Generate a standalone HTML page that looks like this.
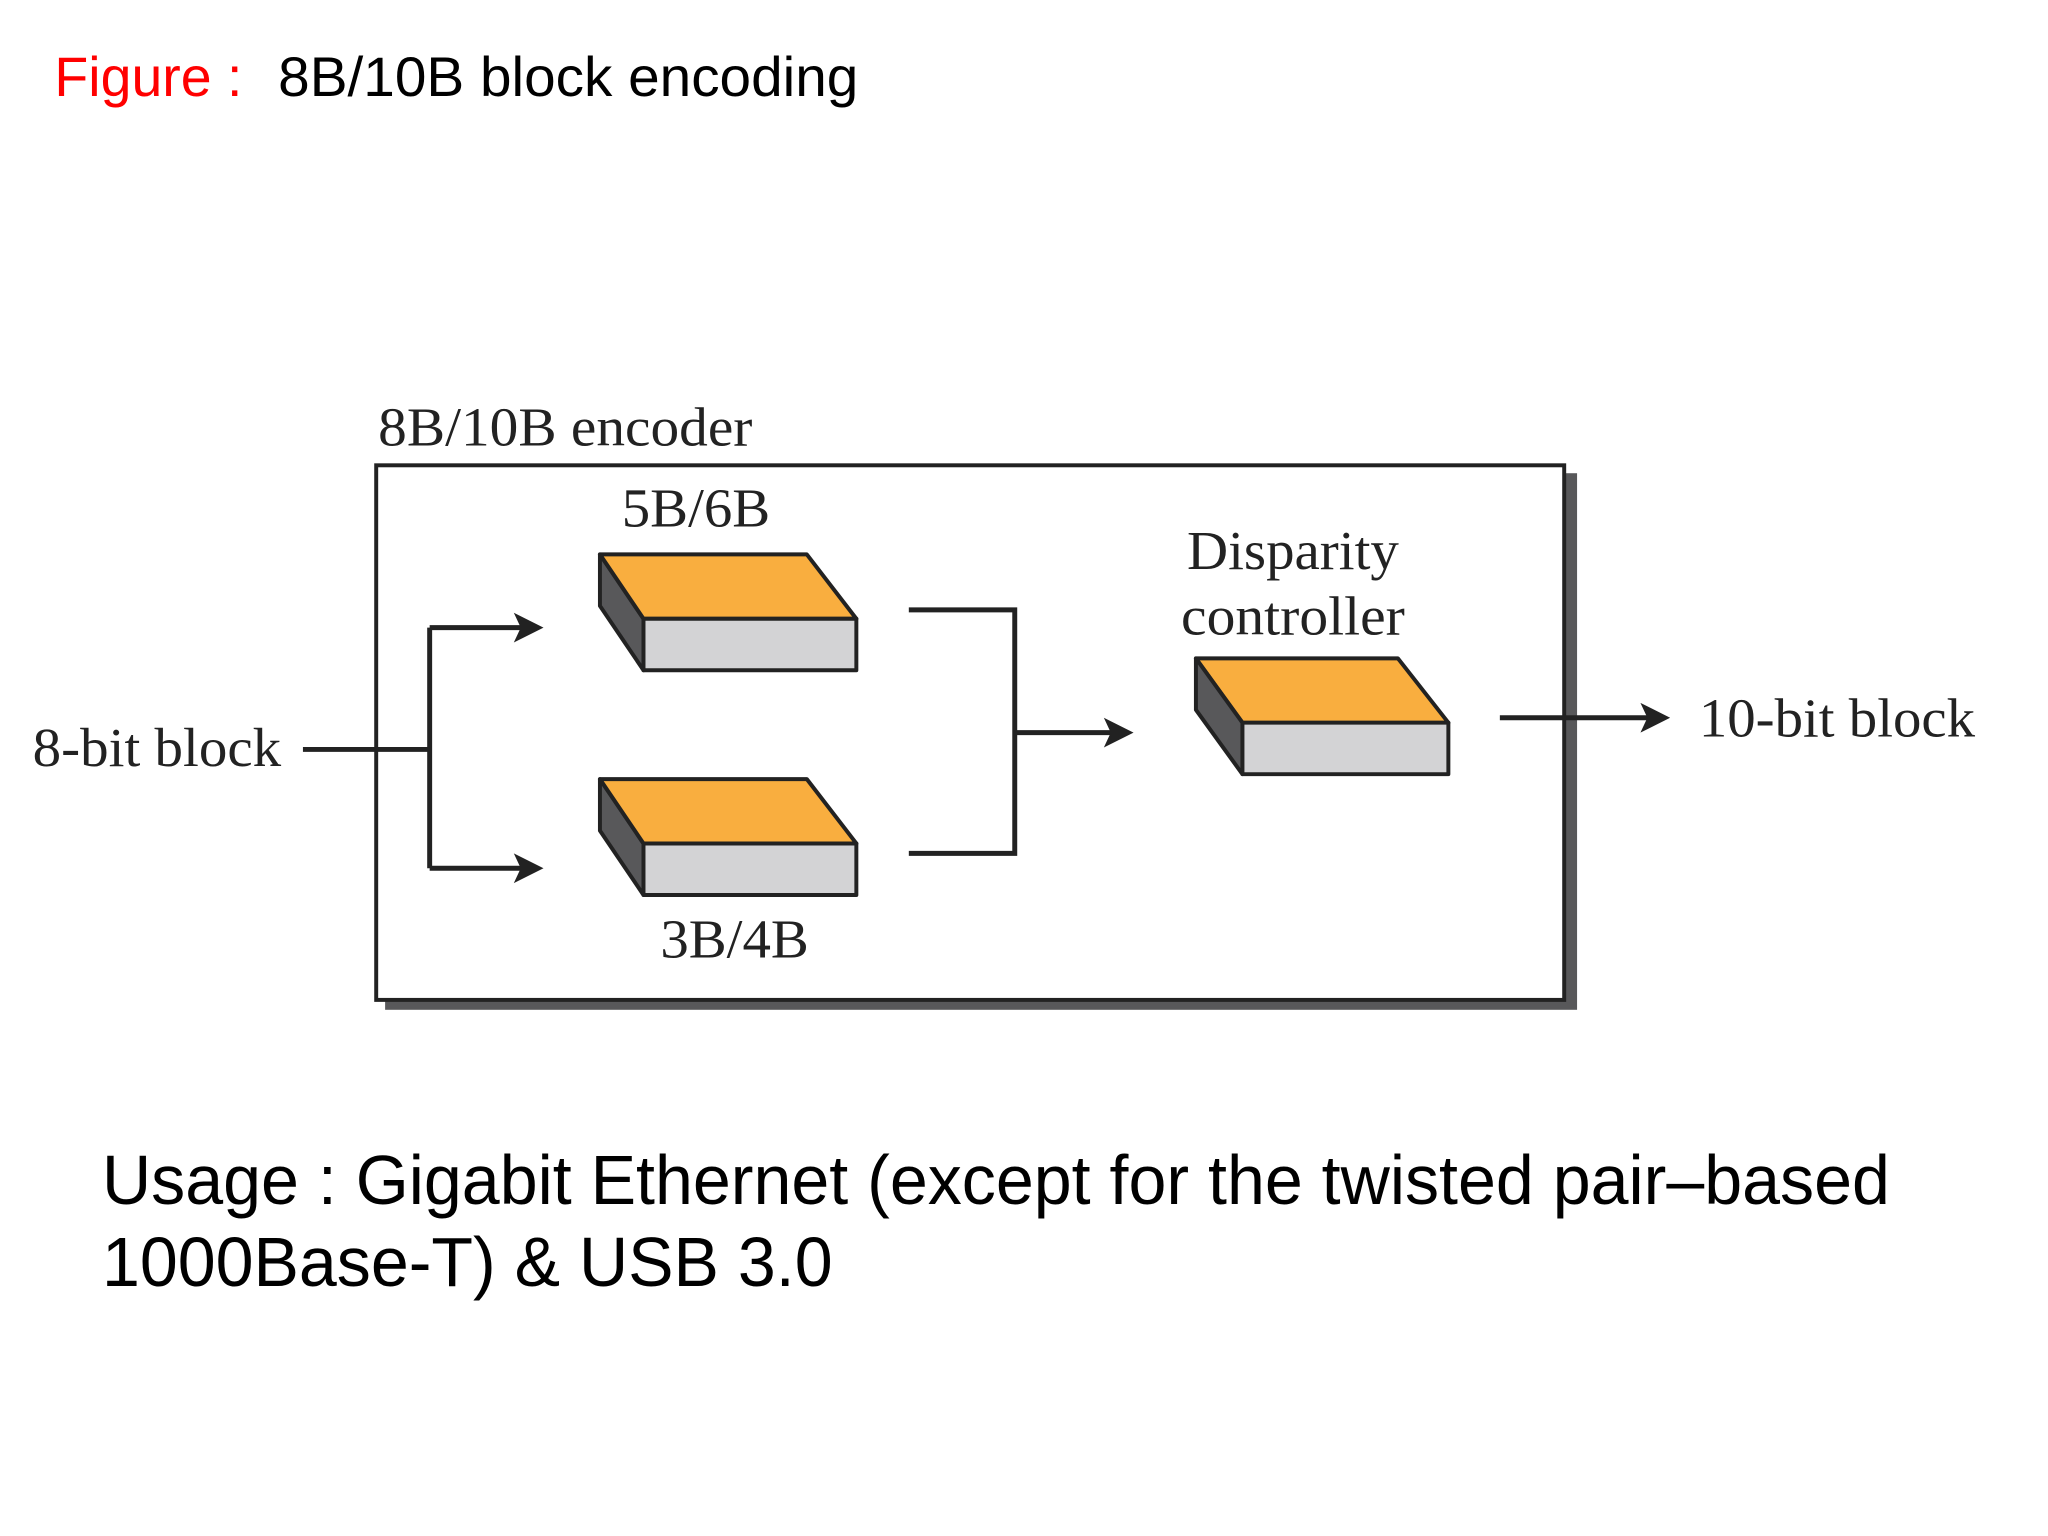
<!DOCTYPE html>
<html><head><meta charset="utf-8"><style>html,body{margin:0;padding:0;background:#fff}svg{display:block}</style></head>
<body>
<svg width="2048" height="1536" viewBox="0 0 2048 1536" xmlns="http://www.w3.org/2000/svg">
<g transform="scale(0.99)">
<g font-family="Liberation Sans, Arial, sans-serif" font-size="56">
<text x="55" y="97" fill="#ff0000">Figure :</text>
<text x="281" y="97" fill="#000" textLength="586" lengthAdjust="spacingAndGlyphs">8B/10B block encoding</text>
<text x="103" y="1216" font-size="70" fill="#000" textLength="1806" lengthAdjust="spacingAndGlyphs">Usage : Gigabit Ethernet (except for the twisted pair–based</text>
<text x="103" y="1299" font-size="70" fill="#000" textLength="738" lengthAdjust="spacingAndGlyphs">1000Base-T) &amp; USB 3.0</text>
</g>
<rect x="389" y="478" width="1204" height="542" fill="#58585a"/>
<rect x="380" y="470" width="1200" height="540" fill="#fff" stroke="#222" stroke-width="4"/>
<g font-family="Liberation Serif, Times New Roman, serif" font-size="56" fill="#222">
<text x="382" y="450" textLength="378" lengthAdjust="spacingAndGlyphs">8B/10B encoder</text>
<text x="703" y="532" text-anchor="middle" textLength="150" lengthAdjust="spacingAndGlyphs">5B/6B</text>
<text x="742" y="967" text-anchor="middle" textLength="150" lengthAdjust="spacingAndGlyphs">3B/4B</text>
<text x="1306" y="575" text-anchor="middle" textLength="214" lengthAdjust="spacingAndGlyphs">Disparity</text>
<text x="1306" y="641" text-anchor="middle" textLength="226" lengthAdjust="spacingAndGlyphs">controller</text>
<text x="33" y="774" textLength="251" lengthAdjust="spacingAndGlyphs">8-bit block</text>
<text x="1716" y="744" textLength="279" lengthAdjust="spacingAndGlyphs">10-bit block</text>
</g>
<g stroke="#222" stroke-width="4" stroke-linejoin="round">
<g>
<polygon points="606,560 650,625 650,677 606,612" fill="#58585a"/>
<polygon points="606,560 815,560 865,625 650,625" fill="#f9ae3f"/>
<rect x="650" y="625" width="215" height="52" fill="#d3d3d5"/>
</g>
<g>
<polygon points="606,787 650,852 650,904 606,839" fill="#58585a"/>
<polygon points="606,787 815,787 865,852 650,852" fill="#f9ae3f"/>
<rect x="650" y="852" width="215" height="52" fill="#d3d3d5"/>
</g>
<g>
<polygon points="1208,665 1412,665 1463,730 1255,730" fill="#f9ae3f"/>
<polygon points="1208,665 1255,730 1255,782 1208,717" fill="#58585a"/>
<rect x="1255" y="730" width="208" height="52" fill="#d3d3d5"/>
</g>
</g>
<g stroke="#222" stroke-width="5" fill="none">
<path d="M306,757 H434 M434,634 V877"/>
<path d="M434,634 H542 M434,877 H542"/>
<path d="M918,616 H1025 V862 H918"/>
<path d="M1025,740 H1135"/>
<path d="M1515,725 H1680"/>
</g>
<g fill="#222">
<polygon points="549,634 519,619 526,634 519,649"/>
<polygon points="549,877 519,862 526,877 519,892"/>
<polygon points="1145,740 1115,725 1122,740 1115,755"/>
<polygon points="1687,725 1657,710 1664,725 1657,740"/>
</g>
</g>
</svg>
</body></html>
